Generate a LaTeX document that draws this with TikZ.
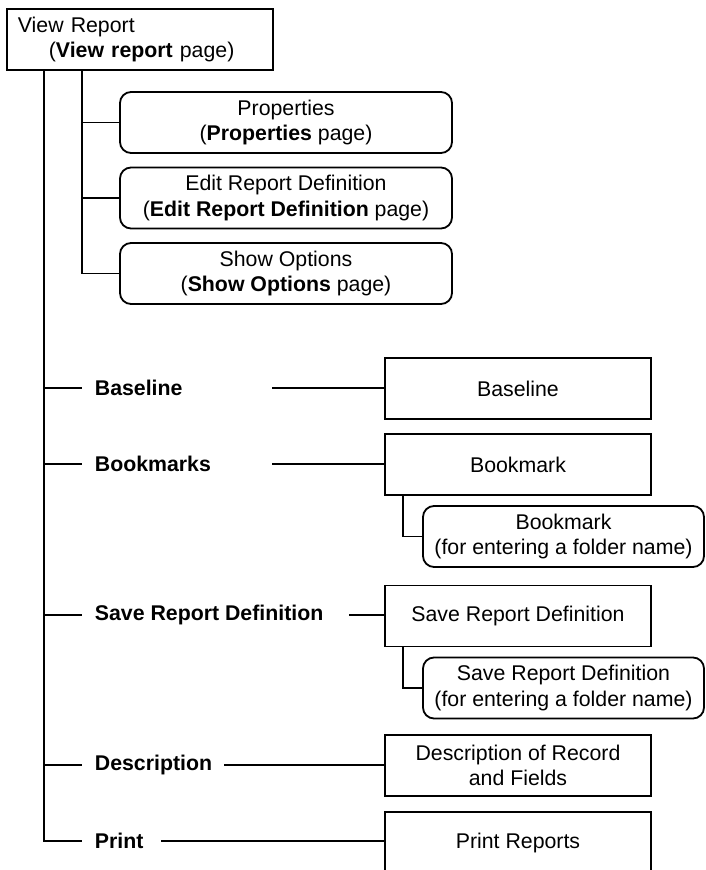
\documentclass[tikz,border=0pt]{standalone}
\usepackage{fontspec}
\setmainfont{Liberation Sans}
\begin{document}
\begin{tikzpicture}[x=1pt,y=-1pt,
  line width=1.8pt,
  every node/.style={font=\fontsize{21.3}{25.5}\selectfont, align=center},
  pagebox/.style={draw, rounded corners=11pt, minimum width=332pt, minimum height=61pt, inner sep=0pt},
  subpage/.style={draw, rounded corners=11pt, minimum width=281pt, minimum height=61pt, inner sep=0pt},
  screen/.style={draw, minimum width=266pt, minimum height=61pt, inner sep=0pt},
  menulabel/.style={anchor=west, inner xsep=12pt, inner ysep=0pt, font=\fontsize{21.3}{25.5}\selectfont\bfseries}]
\useasboundingbox (0,0) rectangle (706,870);
\clip (0,0) rectangle (706,870);

% root screen
\node[draw, anchor=north west, align=left, text width=244pt, inner xsep=11pt, inner ysep=0pt,
      minimum height=61pt] (root) at (6,8)
  {View Report\\\hspace*{31pt}(\textbf{View report} page)};

% pages reached from the root
\node[pagebox] (props) at (286,122.5) {Properties\\(\textbf{Properties} page)};
\node[pagebox] (edit)  at (286,198)   {Edit Report Definition\\(\textbf{Edit Report Definition} page)};
\node[pagebox] (show)  at (286,273.5) {Show Options\\(\textbf{Show Options} page)};

\coordinate (sub) at (82,69);
\draw (sub) |- (show.west);
\draw (sub |- props.west) -- (props.west);
\draw (sub |- edit.west) -- (edit.west);

% menu items
\node[menulabel] (lbase) at (82,388) {Baseline};
\node[menulabel] (lbook) at (82,464) {Bookmarks};
\node[menulabel] (lsave) at (82,615) {Save Report Definition};
\node[menulabel] (ldesc) at (82,765) {Description};
\node[menulabel] (lprint) at (82,841) {Print};

% screens opened by the menu items
\node[screen] (base)  at (518,388.5) {Baseline};
\node[screen] (book)  at (518,464.5) {Bookmark};
\node[subpage] (booksub) at (563.5,536.5) {Bookmark\\(for entering a folder name)};
\node[screen] (save)  at (518,616)   {Save Report Definition};
\node[subpage] (savesub) at (563.5,688) {Save Report Definition\\(for entering a folder name)};
\node[screen] (desc)  at (518,765.5) {Description of Record\\and Fields};
\node[screen] (print) at (518,842.5) {Print Reports};

% trunk and branches
\coordinate (trunk) at (44,69);
\draw (trunk) |- (lprint.west);
\foreach \n in {lbase,lbook,lsave,ldesc}
  \draw (trunk |- \n.west) -- (\n.west);

\coordinate (cbase)  at (272,388);
\coordinate (cbook)  at (272,464);
\coordinate (csave)  at (349,615);
\coordinate (cdesc)  at (224,765);
\coordinate (cprint) at (161,841);
\draw (cbase) -- (base.west |- cbase);
\draw (cbook) -- (book.west |- cbook);
\draw (csave) -- (save.west |- csave);
\draw (cdesc) -- (desc.west |- cdesc);
\draw (cprint) -- (print.west |- cprint);

% folder-name dialogs
\draw ([xshift=19pt]book.south west) |- (booksub.west);
\draw ([xshift=19pt]save.south west) |- (savesub.west);
\end{tikzpicture}
\end{document}
